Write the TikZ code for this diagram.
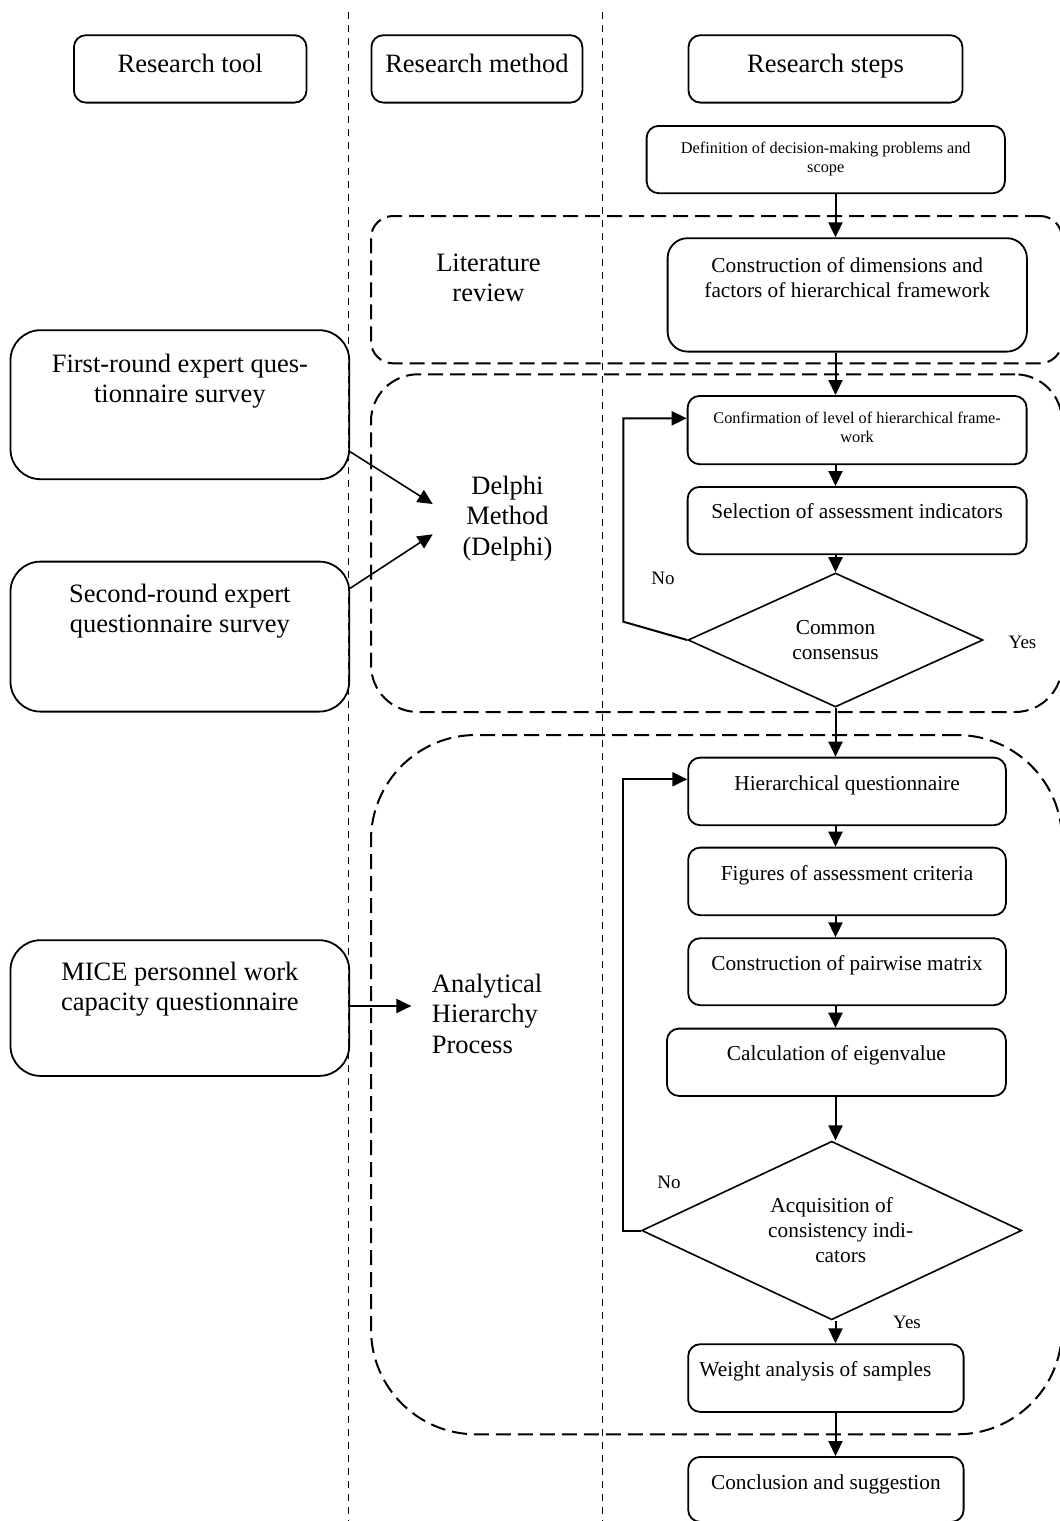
\documentclass[tikz,border=0pt]{standalone}
\usepackage{fontspec}
\setmainfont{Liberation Serif}
\usetikzlibrary{shapes.geometric,arrows.meta,calc}

\newcommand\fbig{\fontsize{26.5}{30.5}\selectfont}
\newcommand\fmid{\fontsize{21.3}{25}\selectfont}
\newcommand\fsml{\fontsize{16.3}{19.5}\selectfont}
\newcommand\fyn{\fontsize{19}{22}\selectfont}

\begin{document}
\begin{tikzpicture}[x=1pt,y=-1pt,
  rbox/.style={draw, line width=1.8pt, rounded corners=12pt, inner xsep=0pt, inner ysep=0pt, align=center, anchor=north west},
  bigbox/.style={rbox, rounded corners=30pt, font=\fbig, minimum width=338.7pt},
  headbox/.style={rbox, font=\fbig, text height=37.4pt, text depth=30pt},
  stepbox/.style={rbox, font=\fmid},
  smlbox/.style={rbox, font=\fsml},
  groupbox/.style={draw, line width=2pt, dash pattern=on 15pt off 7pt, inner sep=0pt, anchor=north west},
  divider/.style={line width=1.5pt, dash pattern=on 7pt off 6pt},
  decision/.style={draw, diamond, line width=1.6pt, inner sep=0pt, align=center, font=\fmid},
  arr/.style={line width=2pt, -{Triangle[length=15pt,width=14pt]}},
  methtext/.style={inner sep=0pt, align=center, anchor=base, font=\fbig},
  yn/.style={inner sep=0pt, anchor=base, font=\fyn},
]
\useasboundingbox (0,0) rectangle (1060,1521);

% dashed group frames
\node[groupbox, rounded corners=22pt, minimum width=691pt, minimum height=147.3pt] (glit) at (370,215) {};
\node[groupbox, rounded corners=47pt, minimum width=691pt, minimum height=337.7pt] (gdel) at (370,373.3) {};
\node[groupbox, rounded corners=105pt, minimum width=691pt, minimum height=699.3pt] (gahp) at (370,734) {};

% column dividers
\coordinate (v1t) at (348.3,12);
\coordinate (v1b) at (348.3,1521);
\coordinate (v2t) at (602.7,12);
\coordinate (v2b) at (602.7,1521);
\draw[divider] (v1t) -- (v1b);
\draw[divider] (v2t) -- (v2b);

% headers
\node[headbox, minimum width=232.6pt] (htool) at (73,34.3) {Research tool};
\node[headbox, minimum width=211pt] (hmeth) at (370.5,34.3) {Research method};
\node[headbox, minimum width=273.9pt] (hsteps) at (687.6,34.3) {Research steps};

% research tools (text height measured to the last line's baseline)
\node[bigbox, text height=72.4pt, text depth=76.6pt] (fr) at (9.6,329.3) {First-round expert ques-\\tionnaire survey};
\node[bigbox, text height=71pt, text depth=79pt] (sr) at (9.6,560.7) {Second-round expert\\questionnaire survey};
\node[bigbox, text height=70.7pt, text depth=65pt] (mice) at (9.6,939.3) {MICE personnel work\\capacity questionnaire};

% research methods
\node[methtext] (lit) at (488.5,301.7) {Literature\\review};
\node[methtext] (delphi) at (507.5,555) {Delphi\\Method\\(Delphi)};
\node[methtext, anchor=base west, align=left] (ahp) at (431.7,1053.3) {Analytical\\Hierarchy\\Process};

% research steps
\node[smlbox, minimum width=358.3pt, text height=46.7pt, text depth=20.6pt] (def) at (645.7,125) {Definition of decision-making problems and\\scope};
\node[stepbox, rounded corners=20pt, minimum width=359.3pt, text height=59.4pt, text depth=54pt] (dims) at (666.7,237.3) {Construction of dimensions and\\factors of hierarchical framework};
\node[smlbox, minimum width=339pt, text height=46.7pt, text depth=21.6pt] (conf) at (686.7,395) {Confirmation of level of hierarchical frame-\\work};
\node[stepbox, minimum width=339pt, text height=31.3pt, text depth=36pt] (sel) at (686.7,486) {Selection of assessment indicators};
\node[decision, aspect=2.2, minimum width=295pt, minimum height=134pt] (d1) at (835.5,640) {Common\\consensus};
\node[stepbox, minimum width=317.7pt, text height=33.3pt, text depth=34.3pt] (hq) at (687.3,756.7) {Hierarchical questionnaire};
\node[stepbox, minimum width=317.7pt, text height=32.6pt, text depth=35pt] (fig) at (687.3,846.7) {Figures of assessment criteria};
\node[stepbox, minimum width=317.7pt, text height=32pt, text depth=35pt] (pw) at (687.3,937.3) {Construction of pairwise matrix};
\node[stepbox, minimum width=339pt, text height=32.3pt, text depth=35pt] (calc) at (666,1027.7) {Calculation of eigenvalue};
\node[decision, aspect=2.13, minimum width=380pt, minimum height=178.6pt] (d2) at (831.7,1230.5) {Acquisition of\\\hspace*{18pt}consistency indi-\\\hspace*{18pt}cators};
\node[stepbox, minimum width=275.4pt, text height=32.7pt, text depth=35pt] (wt) at (687.3,1343.3) {Weight analysis of samples\hspace*{21pt}};
\node[stepbox, minimum width=275.4pt, text height=32.3pt, text depth=32.7pt] (cc) at (687.3,1456) {Conclusion and suggestion};

% yes / no
\node[yn] (no1) at (663,584) {No};
\node[yn] (yes1) at (1022.5,648.3) {Yes};
\node[yn] (no2) at (669,1188.3) {No};
\node[yn] (yes2) at (907,1328.3) {Yes};

% main flow
\coordinate (colx) at (835.5,0);
\draw[arr] (def.south -| colx) -- (dims.north -| colx);
\draw[arr] (dims.south -| colx) -- (conf.north -| colx);
\draw[arr] (conf.south -| colx) -- (sel.north -| colx);
\draw[arr] (sel.south -| colx) -- (d1.north);
\draw[arr] (d1.south) -- (hq.north -| colx);
\draw[arr] (hq.south -| colx) -- (fig.north -| colx);
\draw[arr] (fig.south -| colx) -- (pw.north -| colx);
\draw[arr] (pw.south -| colx) -- (calc.north -| colx);
\draw[arr] (calc.south -| colx) -- (d2.north -| colx);
\draw[arr] (d2.south -| colx) -- (wt.north -| colx);
\draw[arr] (wt.south -| colx) -- (cc.north -| colx);

% loops
\coordinate (l1a) at (623.3,621.7);
\coordinate (l1b) at (623.3,418.3);
\draw[arr] (d1.west) -- (l1a) -- (l1b) -- (l1b -| conf.west);
\coordinate (l2a) at (623.3,1230.5);
\coordinate (l2b) at (623.3,779.3);
\draw[arr] (d2.west) -- (l2a) -- (l2b) -- (l2b -| hq.west);

% tools to methods
\coordinate (a1s) at (348.3,451.7);
\coordinate (a1e) at (432.7,504);
\draw[arr, line width=1.6pt] (fr.east |- a1s) -- (a1e);
\coordinate (a2s) at (348.3,588.3);
\coordinate (a2e) at (432.7,534.3);
\draw[arr, line width=1.6pt] (sr.east |- a2s) -- (a2e);
\coordinate (a3) at (411.4,1006);
\draw[arr] (mice.east |- a3) -- (a3);
\end{tikzpicture}
\end{document}
